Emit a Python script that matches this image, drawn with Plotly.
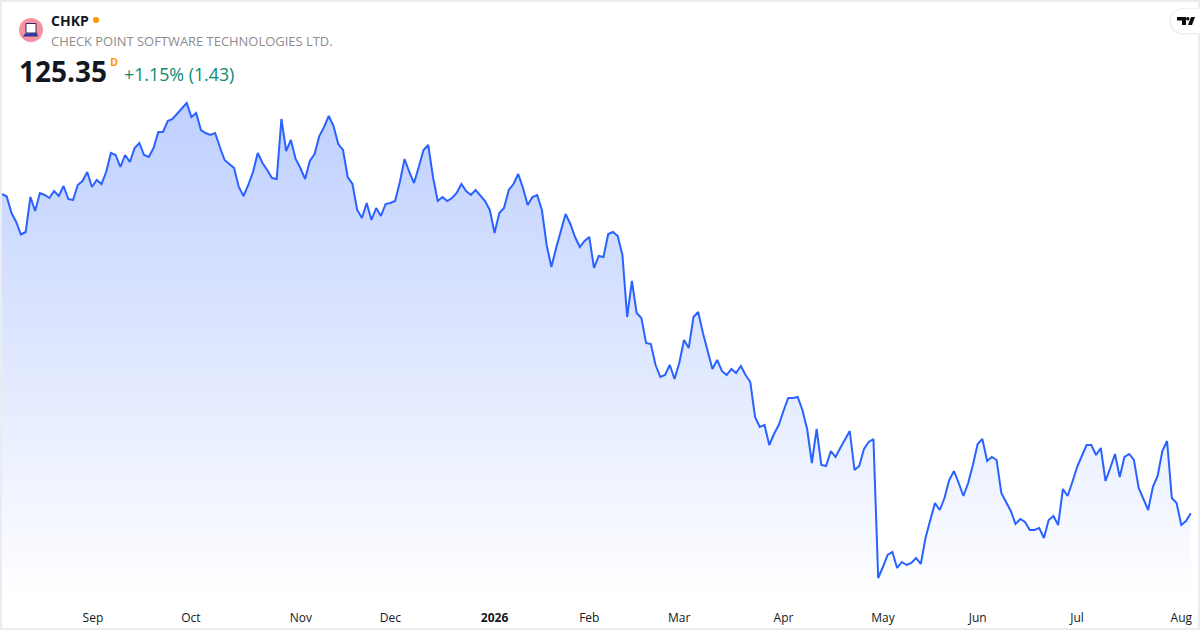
import plotly.graph_objects as go

# precios de cierre (sesiones, sin fechas exactas)
precios = [
    189.2, 188.7, 185.4, 183.6, 181.1, 181.6, 188.6, 185.8, 189.4, 189.0,
    188.4, 189.8, 188.8, 190.8, 188.2, 188.0, 191.0, 191.8, 193.6, 190.6,
    192.0, 191.2, 193.6, 197.4, 197.0, 194.6, 197.0, 195.6, 198.4, 199.4,
    197.0, 196.6, 198.4, 201.6, 201.6, 203.8, 204.2, 205.2, 206.4, 207.4,
    204.6, 205.4, 202.0, 201.4, 201.0, 201.4, 198.6, 196.0, 195.2, 194.4,
    190.6, 188.8, 191.0, 193.6, 197.4, 195.4, 194.0, 192.4, 192.2, 204.2,
    197.8, 200.0, 196.2, 194.4, 192.2, 195.8, 197.2, 200.8, 202.6, 204.8,
    202.8, 199.2, 198.0, 192.6, 191.2, 186.0, 184.4, 187.4, 184.0, 186.4,
    184.8, 187.2, 187.4, 187.8, 191.6, 196.2, 193.6, 191.4, 194.6, 198.0,
    199.0, 192.6, 187.8, 188.6, 187.8, 188.4, 189.4, 191.2, 189.8, 189.0,
    190.0, 189.0, 187.8, 186.0, 181.4, 185.4, 186.4, 190.0, 191.2, 193.2,
    190.4, 187.0, 188.6, 189.0, 186.0, 179.0, 174.6, 178.4, 181.6, 185.2,
    183.2, 180.6, 178.6, 179.8, 180.6, 174.4, 176.8, 176.6, 181.2, 181.6,
    180.8, 177.0, 164.6, 171.8, 165.4, 164.4, 159.4, 159.2, 155.0, 152.6,
    153.0, 155.0, 152.2, 155.4, 160.0, 158.4, 164.6, 165.6, 161.4, 157.6,
    154.2, 156.0, 153.8, 153.0, 154.2, 153.4, 154.8, 153.0, 151.6, 144.6,
    142.6, 143.0, 139.0, 141.2, 143.0, 145.8, 148.4, 148.4, 148.6, 146.0,
    142.2, 135.4, 142.2, 135.0, 134.8, 137.8, 136.6, 138.4, 140.2, 141.8,
    134.0, 134.8, 138.2, 139.6, 140.2, 112.4, 114.6, 117.0, 117.6, 114.4,
    115.6, 115.0, 115.4, 116.4, 115.2, 120.4, 124.0, 127.4, 126.0, 128.4,
    132.0, 133.8, 131.4, 128.8, 131.4, 135.0, 139.2, 140.2, 135.8, 136.6,
    136.0, 129.4, 127.6, 125.8, 123.2, 124.2, 123.6, 122.0, 122.0, 122.4,
    120.4, 124.0, 124.8, 123.0, 130.2, 128.8, 131.6, 134.6, 136.8, 139.0,
    139.0, 137.0, 138.4, 131.8, 134.4, 137.2, 132.6, 136.6, 137.2, 136.0,
    130.4, 128.0, 126.0, 130.6, 132.8, 137.8, 139.8, 128.4, 127.4, 123.0,
    123.8, 125.35,
]
sesiones = list(range(len(precios)))
base = [108] * len(precios)

# etiquetas del eje x, posicion en numero de sesion
ticks = [19.2, 39.9, 63.1, 82, 104, 124, 143, 165, 186, 206, 227, 249]
etiquetas = ["Sep", "Oct", "Nov", "Dec", "<b>2026</b>", "Feb", "Mar", "Apr", "May", "Jun", "Jul", "Aug"]


# pasa de pixeles de la pagina a coordenadas paper (area de dibujo 1200x600)
def px(x):
    return x / 1200


def py(y):
    return (600 - y) / 600


def caja(x0, y0, x1, y1, **kw):
    return dict(type="rect", xref="paper", yref="paper", x0=px(x0), x1=px(x1), y0=py(y0), y1=py(y1), **kw)


def circulo(x0, y0, x1, y1, color):
    return dict(type="circle", xref="paper", yref="paper", x0=px(x0), x1=px(x1), y0=py(y0), y1=py(y1),
                fillcolor=color, line_width=0)


def trazo(puntos, **kw):
    d = "M" + " L".join(f"{px(a):.5f},{py(b):.5f}" for a, b in puntos) + " Z"
    return dict(type="path", xref="paper", yref="paper", path=d, **kw)


def texto(x, y, t, size, color, fuente="Open Sans"):
    return dict(xref="paper", yref="paper", x=px(x), y=py(y), text=t, showarrow=False, xanchor="left",
                yanchor="middle", align="left", borderpad=0, font=dict(family=fuente, size=size, color=color))


fig = go.Figure()
fig.add_trace(go.Scatter(x=sesiones, y=base, mode="lines", line=dict(width=0), hoverinfo="skip", showlegend=False))
fig.add_trace(go.Scatter(x=sesiones, y=precios, mode="lines", showlegend=False, fill="tonexty",
                         line=dict(color="#2962ff", width=2, shape="linear"),
                         fillgradient=dict(type="vertical", colorscale=[[0, "rgba(41,98,255,0)"], [1, "rgba(41,98,255,0.3)"]])))

formas = [
    # borde de la tarjeta
    trazo([(1, 629), (1199, 629), (1199, 1), (1, 1)], line=dict(color="#e4e6ea", width=1.5), fillcolor="rgba(0,0,0,0)"),
    # logo de la empresa
    circulo(19, 18, 43, 42, "#f7919f"),
    caja(26, 23.5, 36, 33, fillcolor="#ffffff", line=dict(color="#2a2e6e", width=1)),
    trazo([(25, 33.5), (37, 33), (38, 36.5), (23, 36.5)], fillcolor="#2f3a9e", line_width=0),
    circulo(93, 17, 99, 23, "#ff9800"),
    # boton del logo de TradingView
    circulo(1169, 8, 1197, 35, "#f1f2f4"),
    caja(1184, 8, 1200, 35, fillcolor="#f1f2f4", line_width=0),
    circulo(1171, 9, 1197, 33, "#ffffff"),
    caja(1184, 9, 1200, 33, fillcolor="#ffffff", line_width=0),
    trazo([(1177, 17), (1186, 17), (1186, 25), (1182, 25), (1182, 20.5), (1177, 20.5)], fillcolor="#0b0b0b", line_width=0),
    trazo([(1188, 25), (1191, 17), (1195, 17), (1192, 25)], fillcolor="#0b0b0b", line_width=0),
    circulo(1186, 17, 1189.5, 20.5, "#0b0b0b"),
]

anotaciones = [
    texto(50, 20.5, "<b>CHKP</b>", 14, "#131722"),
    texto(50, 40.5, "CHECK POINT SOFTWARE TECHNOLOGIES LTD.", 12.95, "#8c8c8c"),
    texto(18, 71, "<b>125.35</b>", 28, "#131722"),
    texto(109, 61, "<b>D</b>", 11, "#ff9800"),
    texto(123, 74.5, "+1.15% (1.43)", 17.8, "#0b8a74"),
]

fig.update_layout(
    width=1200, height=630,
    margin=dict(l=0, r=0, t=0, b=30, pad=0),
    paper_bgcolor="#ffffff", plot_bgcolor="#ffffff",
    font=dict(family="Open Sans", size=12, color="#131722"),
    xaxis=dict(range=[-0.42, 252.95], tickmode="array", tickvals=ticks, ticktext=etiquetas, showgrid=False,
               zeroline=False, showline=False, ticks="", tickangle=0, ticklabelstandoff=9,
               tickfont=dict(size=12, color="#131722")),
    yaxis=dict(range=[108, 228], visible=False, showgrid=False, zeroline=False),
    shapes=formas,
    annotations=anotaciones,
)

# quita el margen del body para que la figura ocupe toda la ventana
fig.write_html("out.html", config={"displayModeBar": False}, post_script="document.body.style.margin='0';")
